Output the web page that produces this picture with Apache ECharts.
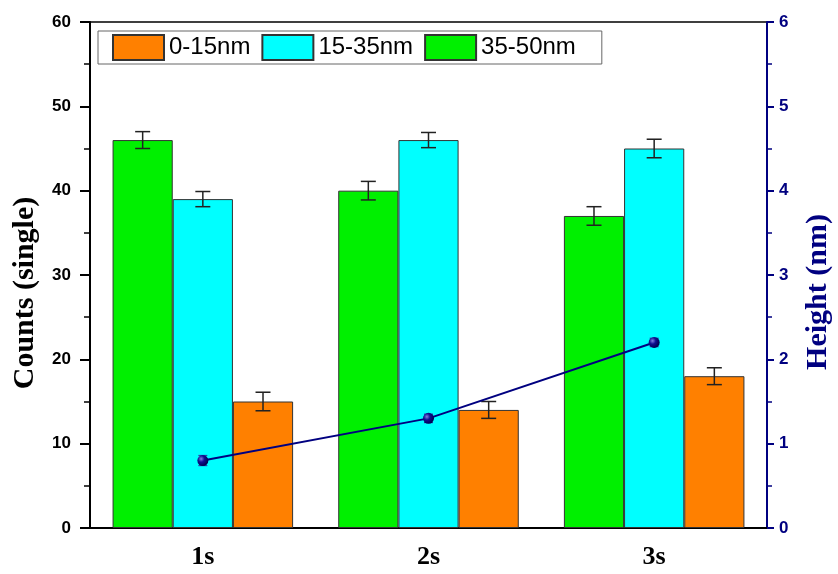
<!DOCTYPE html>
<html>
<head>
<meta charset="utf-8">
<script src="https://cdn.jsdelivr.net/npm/echarts@6/dist/echarts.min.js"></script>
<style>html,body{margin:0;padding:0;background:#fff}#c{width:838px;height:574px}</style>
</head>
<body>
<div id="c"></div>
<script>
const categories = ['1s', '2s', '3s'];
const counts0_15 = [15, 14, 18];
const err0_15 = [1.1, 1.0, 1.0];
const counts15_35 = [39, 46, 45];
const err15_35 = [0.9, 0.9, 1.1];
const counts35_50 = [46, 40, 37];
const err35_50 = [1.0, 1.1, 1.1];
const heightNm = [0.8, 1.3, 2.2];
const heightErr = [0.06, 0.05, 0.05];
const leftTicks = [0, 10, 20, 30, 40, 50, 60];
const rightTicks = [0, 1, 2, 3, 4, 5, 6];

const BAR_FRAC = 0.8; // 1 - barCategoryGap

function errSeries(vals, errs, slot, yIdx, color, cap, lw) {
  return {
    type: 'custom',
    yAxisIndex: yIdx,
    z: 10,
    silent: true,
    data: vals.map((v, i) => [i, v, errs[i]]),
    encode: { x: 0, y: 1 },
    renderItem: function (params, api) {
      const x = api.value(0), v = api.value(1), e = api.value(2);
      const band = api.size([1, 0])[0];
      const off = slot * band * BAR_FRAC / 3;
      const hi = api.coord([x, v + e]);
      const lo = api.coord([x, v - e]);
      const cx = hi[0] + off;
      const st = { stroke: color, lineWidth: lw };
      return {
        type: 'group',
        children: [
          { type: 'line', shape: { x1: cx, y1: hi[1], x2: cx, y2: lo[1] }, style: st },
          { type: 'line', shape: { x1: cx - cap / 2, y1: hi[1], x2: cx + cap / 2, y2: hi[1] }, style: st },
          { type: 'line', shape: { x1: cx - cap / 2, y1: lo[1], x2: cx + cap / 2, y2: lo[1] }, style: st }
        ]
      };
    }
  };
}

const barStyle = (c) => ({ color: c, borderColor: '#333', borderWidth: 1 });

const chart = echarts.init(document.getElementById('c'));
chart.setOption({
  animation: false,
  backgroundColor: '#fff',
  grid: { left: 90, right: 71, top: 22, bottom: 46, outerBoundsMode: 'none', containLabel: false, show: true, borderColor: '#000', borderWidth: 1.5, backgroundColor: 'transparent' },
  legend: {
    data: ['0-15nm', '15-35nm', '35-50nm'],
    left: 98, top: 31,
    orient: 'horizontal',
    itemWidth: 51, itemHeight: 25, itemGap: 11,
    padding: [3, 26, 3, 14],
    borderColor: '#666', borderWidth: 1,
    icon: 'rect',
    textStyle: { fontFamily: 'Liberation Sans', fontSize: 24, color: '#000' }
  },
  xAxis: {
    type: 'category',
    data: categories,
    axisLine: { lineStyle: { color: '#000', width: 2 } },
    axisTick: { show: false },
    axisLabel: { fontFamily: 'Liberation Serif', fontWeight: 'bold', fontSize: 26, color: '#000', margin: 16 },
    splitLine: { show: false }
  },
  yAxis: [
    {
      type: 'value', min: leftTicks[0], max: leftTicks[leftTicks.length - 1], interval: 10,
      position: 'left',
      name: 'Counts (single)', nameLocation: 'middle', nameGap: 50,
      nameTextStyle: { fontFamily: 'Liberation Serif', fontWeight: 'bold', fontSize: 30, color: '#000', padding: [0, 36, 0, 0] },
      axisLine: { show: true, lineStyle: { color: '#000', width: 2 } },
      axisTick: { show: true, length: 10, lineStyle: { color: '#000', width: 2 } },
      minorTick: { show: true, splitNumber: 2, length: 6, lineStyle: { color: '#000', width: 1.5 } },
      axisLabel: { fontFamily: 'Liberation Sans', fontWeight: 'bold', fontSize: 17, color: '#000', margin: 19 },
      splitLine: { show: false }
    },
    {
      type: 'value', min: rightTicks[0], max: rightTicks[rightTicks.length - 1], interval: 1,
      position: 'right',
      name: 'Height (nm)', nameLocation: 'middle', nameGap: 36,
      nameTextStyle: { fontFamily: 'Liberation Serif', fontWeight: 'bold', fontSize: 30, color: '#000080', padding: [0, 34, 0, 0] },
      axisLine: { show: true, lineStyle: { color: '#000080', width: 2 } },
      axisTick: { show: true, length: 7, lineStyle: { color: '#000080', width: 2 } },
      minorTick: { show: true, splitNumber: 2, length: 5, lineStyle: { color: '#000080', width: 1.5 } },
      axisLabel: { fontFamily: 'Liberation Sans', fontWeight: 'bold', fontSize: 17, color: '#000080', margin: 12 },
      splitLine: { show: false }
    }
  ],
  series: [
    { name: '35-50nm', type: 'bar', data: counts35_50, barGap: '0%', barCategoryGap: '20%', itemStyle: barStyle('#00f000') },
    { name: '15-35nm', type: 'bar', data: counts15_35, barGap: '0%', barCategoryGap: '20%', itemStyle: barStyle('#00ffff') },
    { name: '0-15nm', type: 'bar', data: counts0_15, barGap: '0%', barCategoryGap: '20%', itemStyle: barStyle('#ff8000') },
    errSeries(counts35_50, err35_50, -1, 0, '#222', 15, 1.5),
    errSeries(counts15_35, err15_35, 0, 0, '#222', 15, 1.5),
    errSeries(counts0_15, err0_15, 1, 0, '#222', 15, 1.5),
    {
      name: 'Height', type: 'line', yAxisIndex: 1, data: heightNm, z: 12,
      lineStyle: { color: '#000080', width: 2 },
      symbol: 'circle', symbolSize: 11,
      itemStyle: {
        color: new echarts.graphic.RadialGradient(0.35, 0.35, 0.65, [
          { offset: 0, color: '#8080e0' }, { offset: 0.45, color: '#101090' }, { offset: 1, color: '#000050' }
        ])
      }
    },
    errSeries(heightNm, heightErr, 0, 1, '#3040b0', 9, 1.2)
  ]
});
</script>
</body>
</html>
